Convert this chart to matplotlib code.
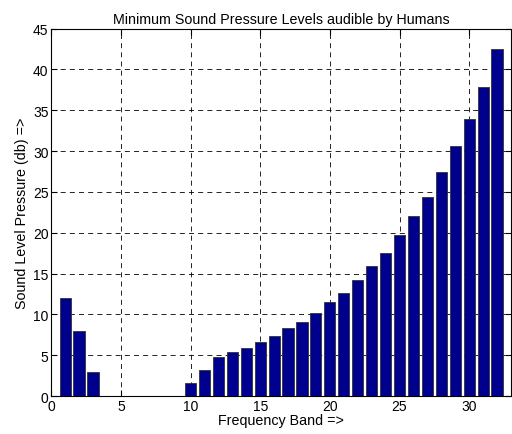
import matplotlib
matplotlib.use('Agg')
import matplotlib.pyplot as plt

plt.rcParams['font.family'] = ['Liberation Sans', 'DejaVu Sans']

bands = list(range(1, 33))
levels = [12.0, 8.0, 3.0, 0, 0, 0, 0, 0, 0, 1.55,
          3.25, 4.8, 5.35, 5.9, 6.6, 7.4, 8.3, 9.1, 10.2, 11.5,
          12.6, 14.2, 15.9, 17.5, 19.7, 22.0, 24.4, 27.5, 30.6, 33.9,
          37.9, 42.5]
xticks = [0, 5, 10, 15, 20, 25, 30]
yticks = [0, 5, 10, 15, 20, 25, 30, 35, 40, 45]

fig = plt.figure(figsize=(5.12, 4.35), dpi=100)
ax = fig.add_axes([0.1, 0.087, 0.898, 0.845])

ax.bar(bands, levels, width=0.8, color='#00008f', edgecolor='#333333', linewidth=0.6, zorder=3)

ax.set_xlim(0, 33)
ax.set_ylim(0, 45)
ax.set_xticks(xticks)
ax.set_yticks(yticks)
ax.grid(True, color='black', linestyle=(0, (6, 5)), linewidth=0.6, zorder=0)
ax.tick_params(direction='in', top=True, right=True, labelsize=10, length=4, pad=2)
for s in ax.spines.values():
    s.set_linewidth(0.8)

ax.set_title('Minimum Sound Pressure Levels audible by Humans', fontsize=10.3, pad=4)
ax.set_xlabel('Frequency Band =>', fontsize=10.3, labelpad=0)
ax.set_ylabel('Sound Level Pressure (db) =>', fontsize=10.3, labelpad=3)

fig.savefig('out.png', dpi=100)
